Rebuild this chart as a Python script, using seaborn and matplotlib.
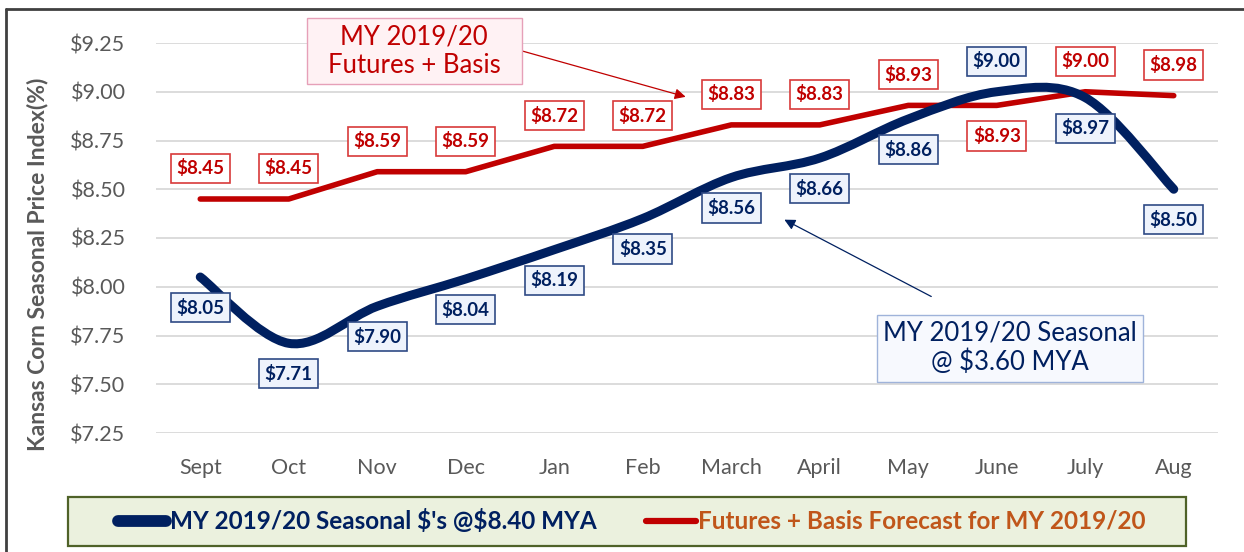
import numpy as np
import pandas as pd
import matplotlib
matplotlib.use("Agg")
import matplotlib.pyplot as plt
import seaborn as sns
from matplotlib.path import Path
from matplotlib.patches import PathPatch, Rectangle
from matplotlib.lines import Line2D

# ---------------- data ----------------
months = ["Sept", "Oct", "Nov", "Dec", "Jan", "Feb", "March", "April",
          "May", "June", "July", "Aug"]
seasonal = [8.05, 7.71, 7.90, 8.04, 8.19, 8.35, 8.56, 8.66, 8.86, 9.00, 8.97, 8.50]
futures = [8.45, 8.45, 8.59, 8.59, 8.72, 8.72, 8.83, 8.83, 8.93, 8.93, 9.00, 8.98]
seasonal_above = [False, False, False, False, False, False, False, False,
                  False, True, False, False]
futures_above = [True, True, True, True, True, True, True, True,
                 True, False, True, True]
y_ticks = [7.25, 7.50, 7.75, 8.00, 8.25, 8.50, 8.75, 9.00, 9.25]

seasonal_name = "MY 2019/20 Seasonal \\$'s @\\$8.40 MYA"
futures_name = "Futures + Basis Forecast for MY 2019/20"

df = pd.DataFrame({"month": months, "futures": futures, "seasonal": seasonal})

# ---------------- style ----------------
NAVY = "#002060"
RED = "#C00000"
GRAY = "#595959"

sns.set_theme(style="white")
plt.rcParams["font.family"] = ["Lato", "DejaVu Sans"]

W, H = 1244, 552
fig = plt.figure(figsize=(W / 100, H / 100), dpi=100)
fig.patch.set_facecolor("white")


def fx(px):
    return px / W


def fy(py):
    return 1 - py / H


def fig_rect(x0, y0, x1, y1, **kw):
    r = Rectangle((fx(x0), fy(y1)), fx(x1) - fx(x0), fy(y0) - fy(y1),
                  transform=fig.transFigure, **kw)
    fig.patches.append(r)
    return r


ax = fig.add_axes([fx(156), fy(433), fx(1218) - fx(156), fy(43) - fy(433)])
ax.set_facecolor("white")

# futures line (straight segments)
sns.lineplot(data=df, x="month", y="futures", ax=ax, color=RED, lw=4.0,
             sort=False, legend=False, solid_capstyle="round",
             solid_joinstyle="round", zorder=3)

# seasonal line: Excel-style smoothed curve (cubic Bezier through the points)
xs = np.arange(len(seasonal), dtype=float)
ys = np.array(seasonal, dtype=float)
verts = [(xs[0], ys[0])]
codes = [Path.MOVETO]
n = len(xs)
for i in range(n - 1):
    p0 = np.array([xs[max(i - 1, 0)], ys[max(i - 1, 0)]])
    p1 = np.array([xs[i], ys[i]])
    p2 = np.array([xs[i + 1], ys[i + 1]])
    p3 = np.array([xs[min(i + 2, n - 1)], ys[min(i + 2, n - 1)]])
    c1 = p1 + (p2 - p0) / 6.0
    c2 = p2 - (p3 - p1) / 6.0
    verts += [tuple(c1), tuple(c2), tuple(p2)]
    codes += [Path.CURVE4, Path.CURVE4, Path.CURVE4]
patch = PathPatch(Path(verts, codes), facecolor="none", edgecolor=NAVY,
                  lw=6.5, capstyle="round", joinstyle="round", zorder=4)
ax.add_patch(patch)

ax.set_xlim(-0.5, len(months) - 0.5)
ax.set_ylim(7.25, 9.25)
ax.set_yticks(y_ticks)
ax.set_yticklabels([f"\\${v:.2f}" for v in y_ticks])
ax.set_xticks(range(len(months)))
ax.set_xticklabels(months)
ax.grid(axis="y", color="#D9D9D9", lw=1.3)
ax.grid(axis="x", visible=False)
for s in ax.spines.values():
    s.set_visible(False)
ax.tick_params(axis="both", length=0, labelsize=15.5, labelcolor=GRAY)
ax.tick_params(axis="y", pad=22)
ax.tick_params(axis="x", pad=18)
ax.set_xlabel("")
ax.set_ylabel("")

# ---------------- data labels ----------------
OFF = 22  # points
for i, v in enumerate(futures):
    dy = OFF if futures_above[i] else -OFF
    ax.annotate(f"\\${v:.2f}", xy=(i, v), xytext=(0, dy), textcoords="offset points",
                ha="center", va="center", fontsize=13.5, fontweight="bold", color=RED,
                bbox=dict(boxstyle="square,pad=0.3", fc="white", ec="#D83A3A", lw=1.2),
                zorder=6)
for i, v in enumerate(seasonal):
    dy = OFF if seasonal_above[i] else -OFF
    ax.annotate(f"\\${v:.2f}", xy=(i, v), xytext=(0, dy), textcoords="offset points",
                ha="center", va="center", fontsize=13.5, fontweight="bold", color=NAVY,
                bbox=dict(boxstyle="square,pad=0.3", fc="#EEF3FC", ec="#2F4A85", lw=1.2),
                zorder=6)

# ---------------- callouts ----------------
ax.annotate("", xy=(5.485, 8.974), xytext=(3.63, 9.21),
            arrowprops=dict(arrowstyle="-|>", color=RED, lw=0.9, mutation_scale=16,
                            shrinkA=0, shrinkB=0), zorder=5)
fig_rect(307, 18, 522, 84, fc="#FFF2F4", ec="#E6A0B8", lw=1.0, zorder=5)
fig.text(fx(414), fy(51), "MY 2019/20\nFutures + Basis", ha="center", va="center",
         fontsize=18.5, color=RED, linespacing=1.2, zorder=6)

ax.annotate("", xy=(6.60, 8.344), xytext=(8.26, 7.95),
            arrowprops=dict(arrowstyle="-|>", color=NAVY, lw=0.9, mutation_scale=16,
                            shrinkA=0, shrinkB=0), zorder=5)
fig_rect(877, 315, 1143, 382, fc="#F7F9FE", ec="#9FB3DA", lw=1.0, zorder=5)
fig.text(fx(1010), fy(348), "MY 2019/20 Seasonal\n@ \\$3.60 MYA", ha="center",
         va="center", fontsize=18.5, color=NAVY, linespacing=1.2, zorder=6)

# ---------------- y label ----------------
fig.text(fx(38), fy(264), "Kansas Corn Seasonal Price Index(%)", rotation=90,
         ha="center", va="center", fontsize=16.5, fontweight="bold", color=GRAY)

# ---------------- legend ----------------
fig_rect(68, 497, 1186, 546, fc="#EBF1DE", ec="#4F6228", lw=1.6, zorder=1)
ly = fy(521)
fig.lines.append(Line2D([fx(118), fx(166)], [ly, ly], transform=fig.transFigure,
                        color=NAVY, lw=8.5, solid_capstyle="round", zorder=2))
fig.text(fx(170), ly, seasonal_name, ha="left", va="center", fontsize=17.5,
         fontweight="bold", color=NAVY, zorder=3)
fig.lines.append(Line2D([fx(646), fx(696)], [ly, ly], transform=fig.transFigure,
                        color=RED, lw=4.5, solid_capstyle="round", zorder=2))
fig.text(fx(698), ly, futures_name, ha="left", va="center", fontsize=17.5,
         fontweight="bold", color="#C0561A", zorder=3)

# ---------------- outer border ----------------
fig.lines.append(Line2D([fx(6), fx(6)], [fy(9), 0], transform=fig.transFigure,
                        color="#404040", lw=2))
fig.lines.append(Line2D([fx(6), 1], [fy(9), fy(9)], transform=fig.transFigure,
                        color="#404040", lw=2))

fig.savefig("out.png", dpi=100)
